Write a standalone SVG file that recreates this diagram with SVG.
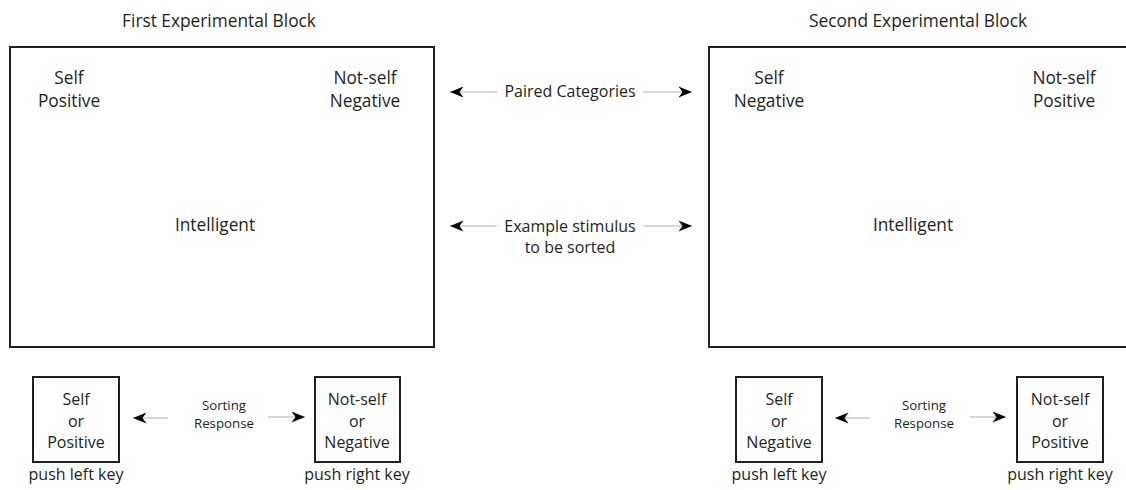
<svg xmlns="http://www.w3.org/2000/svg" width="1126" height="490" viewBox="0 0 1126 490">
<defs>
<marker id="ah" markerUnits="userSpaceOnUse" markerWidth="16" markerHeight="12" refX="14" refY="6" orient="auto">
<path d="M14,6 L0.5,0.6 L4.5,6 L0.5,11.4 Z" fill="#000"/>
</marker>
<style>
text{font-family:"Open Sans","Liberation Sans",sans-serif;fill:#231f20;text-anchor:middle}
.t{font-size:16px}
.L{font-size:17.3px}
.s{font-size:13.3px}
.big{fill:#fff;stroke:#231f20;stroke-width:2}
.sm{fill:#fff;stroke:#231f20;stroke-width:2}
.c{stroke:#b0b0b0;stroke-width:1;fill:none;marker-end:url(#ah)}
</style>
</defs>
<rect width="1126" height="490" fill="#fff"/>
<g id="title1"><text class="L" x="219" y="27">First Experimental Block</text></g>
<g id="title2"><text class="L" x="918" y="27">Second Experimental Block</text></g>
<g id="block1">
<rect class="big" x="10" y="47" width="424" height="300"/>
<text class="L" x="69" y="84">Self</text>
<text class="L" x="69" y="107">Positive</text>
<text class="L" x="365" y="84">Not-self</text>
<text class="L" x="365" y="107">Negative</text>
<text class="L" x="215" y="231">Intelligent</text>
</g>
<g id="block2">
<rect class="big" x="709" y="47" width="424" height="300"/>
<text class="L" x="769" y="84">Self</text>
<text class="L" x="769" y="107">Negative</text>
<text class="L" x="1064" y="84">Not-self</text>
<text class="L" x="1064" y="107">Positive</text>
<text class="L" x="913" y="231">Intelligent</text>
</g>
<g id="labels-middle">
<text class="t" x="570" y="97">Paired Categories</text>
<text class="t" x="570" y="232">Example stimulus</text>
<text class="t" x="570" y="253">to be sorted</text>
</g>
<g id="key1l">
<rect class="sm" x="33" y="377" width="86" height="85"/>
<text class="t" x="76" y="405">Self</text>
<text class="t" x="76" y="427">or</text>
<text class="t" x="76" y="448">Positive</text>
<text class="t" x="76" y="480">push left key</text>
</g>
<g id="key1r">
<rect class="sm" x="315" y="377" width="85" height="85"/>
<text class="t" x="357" y="405">Not-self</text>
<text class="t" x="357" y="427">or</text>
<text class="t" x="357" y="448">Negative</text>
<text class="t" x="357" y="480">push right key</text>
</g>
<g id="sort1">
<text class="s" x="224" y="410">Sorting</text>
<text class="s" x="224" y="428">Response</text>
</g>
<g id="key2l">
<rect class="sm" x="736" y="377" width="86" height="85"/>
<text class="t" x="779" y="405">Self</text>
<text class="t" x="779" y="427">or</text>
<text class="t" x="779" y="448">Negative</text>
<text class="t" x="779" y="480">push left key</text>
</g>
<g id="key2r">
<rect class="sm" x="1017" y="377" width="86" height="85"/>
<text class="t" x="1060" y="405">Not-self</text>
<text class="t" x="1060" y="427">or</text>
<text class="t" x="1060" y="448">Positive</text>
<text class="t" x="1060" y="480">push right key</text>
</g>
<g id="sort2">
<text class="s" x="924" y="410">Sorting</text>
<text class="s" x="924" y="428">Response</text>
</g>
<g id="connectors">
<line class="c" x1="497" y1="92" x2="450" y2="92"/>
<line class="c" x1="643" y1="92" x2="692" y2="92"/>
<line class="c" x1="497" y1="226" x2="450" y2="226"/>
<line class="c" x1="643" y1="226" x2="692" y2="226"/>
<line class="c" x1="168" y1="418" x2="133" y2="418"/>
<line class="c" x1="268" y1="417" x2="305" y2="417"/>
<line class="c" x1="870" y1="418" x2="835" y2="418"/>
<line class="c" x1="970" y1="417" x2="1006" y2="417"/>
</g>
</svg>
